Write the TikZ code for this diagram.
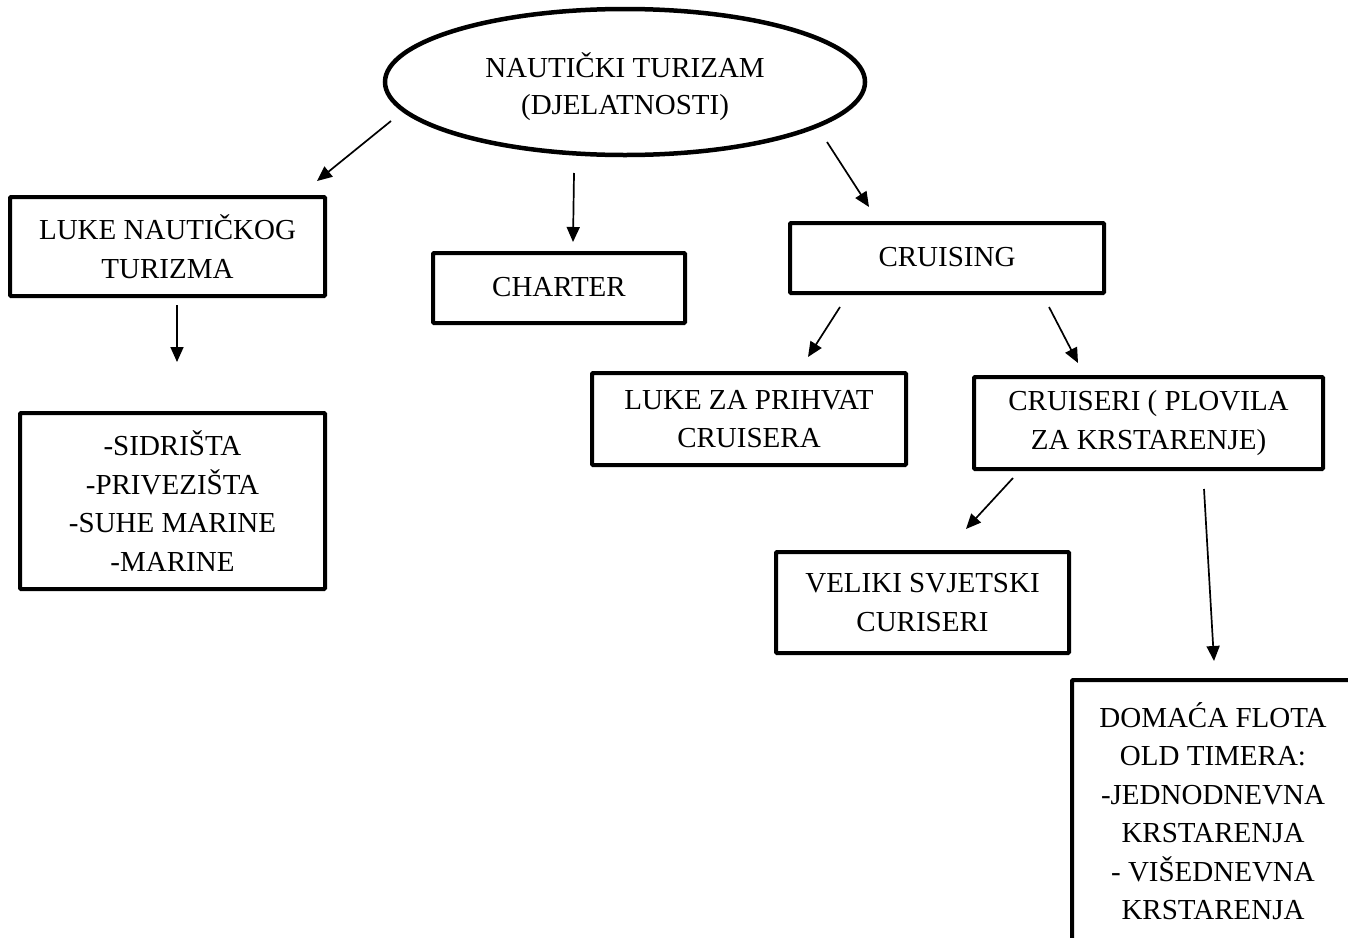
\documentclass[tikz,border=0pt]{standalone}
\usepackage{fontspec}
\setmainfont{Liberation Serif}
\usetikzlibrary{shapes.geometric,arrows.meta}
\tikzset{
  every node/.style={font=\fontsize{29}{38.5}\selectfont, align=center, inner sep=0pt},
  box/.style={draw, line width=4pt, rectangle, rounded corners=1pt},
  oval/.style={draw, line width=4.5pt, ellipse},
  arr/.style={line width=1.7pt, -{Triangle[length=15pt,width=13pt]}}
}
\begin{document}
\begin{tikzpicture}[x=1pt,y=-1pt]
\useasboundingbox (0,0) rectangle (1348,937);
\clip (0,0) rectangle (1348,937);
% nodes
\node[oval, minimum width=480pt, minimum height=146pt] (root) at (625,82) {};
\node[font=\fontsize{29}{37}\selectfont] (roottext) at (625,87) {NAUTIČKI TURIZAM\\(DJELATNOSTI)};
\node[box, minimum width=315pt, minimum height=99pt] (luke) at (167.5,246.5) {LUKE NAUTIČKOG\\TURIZMA};
\node[box, minimum width=305pt, minimum height=176pt] (sidr) at (172.5,501) {-SIDRIŠTA\\-PRIVEZIŠTA\\-SUHE MARINE\\-MARINE};
\node[box, minimum width=252pt, minimum height=70pt] (charter) at (559,288) {\raisebox{2pt}{CHARTER}};
\node[box, minimum width=314pt, minimum height=70pt] (cruising) at (947,258) {\raisebox{2pt}{CRUISING}};
\node[box, minimum width=314pt, minimum height=92pt] (lukez) at (749,419) {LUKE ZA PRIHVAT\\CRUISERA};
\node[box, minimum width=349pt, minimum height=92pt] (cruiseri) at (1148.5,423) {CRUISERI ( PLOVILA\\ZA KRSTARENJE)};
\node[box, minimum width=293pt, minimum height=101pt] (veliki) at (922.5,602.5) {VELIKI SVJETSKI\\CURISERI};
\node[box, minimum width=282pt, minimum height=262pt] (domaca) at (1213,811) {DOMAĆA FLOTA\\OLD TIMERA:\\-JEDNODNEVNA\\KRSTARENJA\\- VIŠEDNEVNA\\KRSTARENJA};
% connector end points (arrows float between the shapes)
\coordinate (a1s) at (391,121); \coordinate (a1e) at (317,181);
\coordinate (a2s) at (574,173); \coordinate (a2e) at (573,242);
\coordinate (a3s) at (827,142); \coordinate (a3e) at (869,207);
\coordinate (a4s) at (177,305); \coordinate (a4e) at (177,362);
\coordinate (a5s) at (840,307); \coordinate (a5e) at (808,357);
\coordinate (a6s) at (1049,307); \coordinate (a6e) at (1078,363);
\coordinate (a7s) at (1013,478); \coordinate (a7e) at (966,529);
\coordinate (a8s) at (1204,489); \coordinate (a8e) at (1214,661);
% connectors
\draw[arr] (a1s) -- (a1e);
\draw[arr] (a2s) -- (a2e);
\draw[arr] (a3s) -- (a3e);
\draw[arr] (a4s) -- (a4e);
\draw[arr] (a5s) -- (a5e);
\draw[arr] (a6s) -- (a6e);
\draw[arr] (a7s) -- (a7e);
\draw[arr] (a8s) -- (a8e);
\end{tikzpicture}
\end{document}
